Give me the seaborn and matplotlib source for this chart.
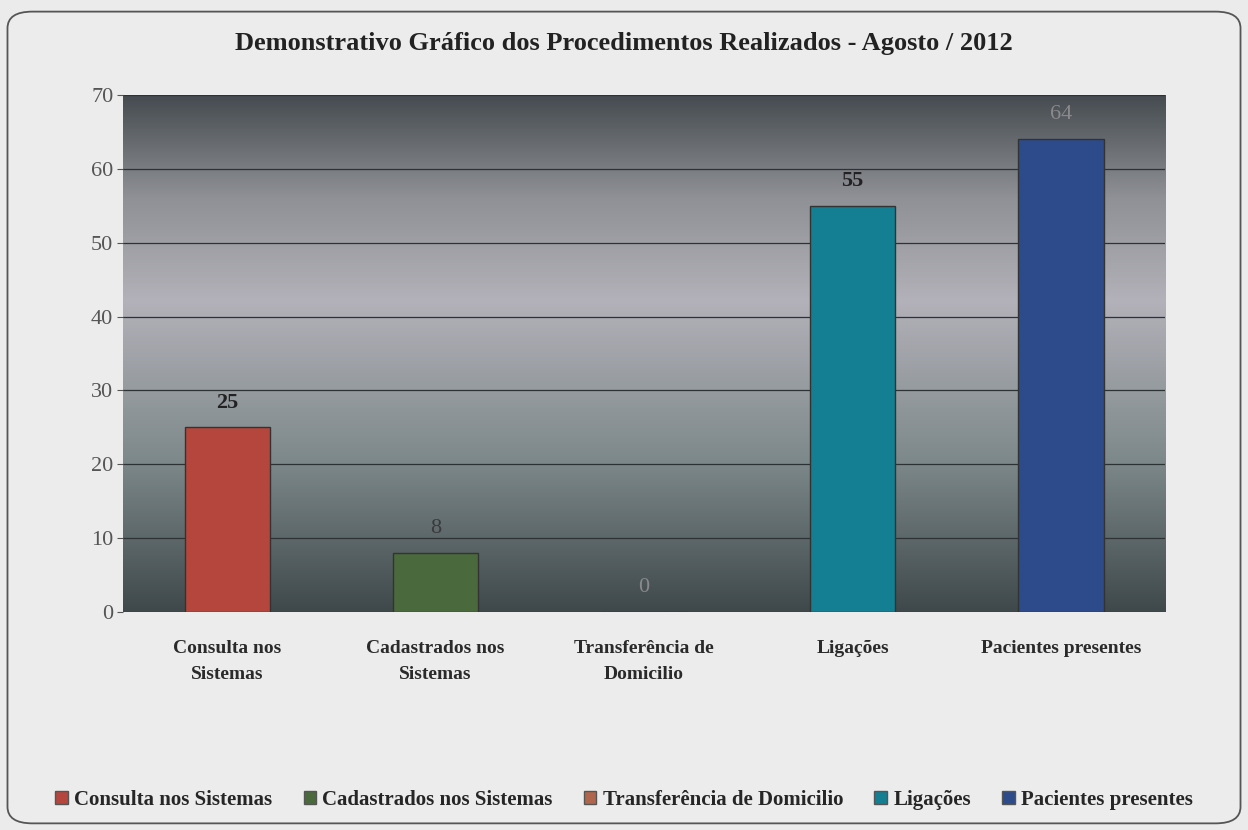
import numpy as np
import pandas as pd
import matplotlib
matplotlib.use("Agg")
import matplotlib.pyplot as plt
from matplotlib.patches import FancyBboxPatch, Patch
from matplotlib.colors import LinearSegmentedColormap
import seaborn as sns

categories = ["Consulta nos\nSistemas", "Cadastrados nos\nSistemas", "Transferência de\nDomicilio", "Ligações", "Pacientes presentes"]
legend_labels = ["Consulta nos Sistemas", "Cadastrados nos Sistemas", "Transferência de Domicilio", "Ligações", "Pacientes presentes"]
values = [25, 8, 0, 55, 64]
colors = ["#b5463d", "#4a6a3e", "#b0664c", "#147e92", "#2d4a8a"]
title = "Demonstrativo Gráfico dos Procedimentos Realizados - Agosto / 2012"

sns.set_style("white")
plt.rcParams['font.family'] = ['Liberation Serif', 'DejaVu Serif']

fig = plt.figure(figsize=(12.48, 8.3), dpi=100)
fig.patch.set_facecolor("#ebebeb")
frame = FancyBboxPatch((0.006, 0.008), 0.988, 0.978, boxstyle="round,pad=0,rounding_size=0.02",
                       transform=fig.transFigure, facecolor="#ececec", edgecolor="#555555", linewidth=1.3,
                       zorder=-5)
fig.patches.append(frame)

ax = fig.add_axes([0.0986, 0.2627, 0.835, 0.6229])
ax.set_facecolor("none")
ax.set_zorder(2)

# gradient background
grad_cmap = LinearSegmentedColormap.from_list("bg", [(0.0, "#3f494b"), (0.3, "#7f8a8c"), (0.6, "#b3b1b9"), (0.8, "#8f9196"), (1.0, "#454b50")])
gy = np.linspace(0, 1, 256).reshape(-1, 1)
ax.imshow(gy, aspect="auto", cmap=grad_cmap, extent=[-0.5, 4.5, 0, 70], origin="lower", zorder=0)

df = pd.DataFrame({"cat": categories, "val": values})
sns.barplot(data=df, x="cat", y="val", hue="cat", palette=colors, legend=False, saturation=1,
            width=0.41, edgecolor="#333333", linewidth=1.0, ax=ax, zorder=3)

ax.set_xlim(-0.5, 4.5)
ax.set_ylim(0, 70)
ax.set_yticks(range(0, 71, 10))
ax.yaxis.grid(True, color="#2d3235", linewidth=0.9)
for line in ax.get_ygridlines():
    line.set_zorder(1)
ax.set_xlabel("")
ax.set_ylabel("")
for s in ax.spines.values():
    s.set_visible(False)
ax.tick_params(axis="y", labelsize=16, colors="#555555", length=4, left=True, width=0.8, pad=3)
ax.tick_params(axis="x", labelsize=14, length=0, pad=20)
for lab in ax.get_xticklabels():
    lab.set_fontweight("bold")
    lab.set_color("#2a2a2a")
    lab.set_linespacing(1.75)

label_styles = [("bold", "#222222"), ("normal", "#3a3a3a"), ("normal", "#8a8a8a"), ("bold", "#222222"), ("normal", "#8a8a8a")]
for i, v in enumerate(values):
    w, c = label_styles[i]
    ax.text(i, v + 2.0, str(v), ha="center", va="bottom", fontsize=16, fontweight=w, color=c, zorder=5)

fig.text(0.5, 0.947, title, ha="center", va="center", fontsize=19, fontweight="bold", color="#222222")

handles = [Patch(facecolor=c, edgecolor="#555555") for c in colors]
fig.legend(handles, legend_labels, loc="center", bbox_to_anchor=(0.5, 0.036), ncol=5, frameon=False,
           prop={"weight": "bold", "size": 15}, handlelength=0.6, handleheight=0.6, handletextpad=0.3,
           columnspacing=1.5)

fig.savefig("out.png", dpi=100, facecolor=fig.get_facecolor())
